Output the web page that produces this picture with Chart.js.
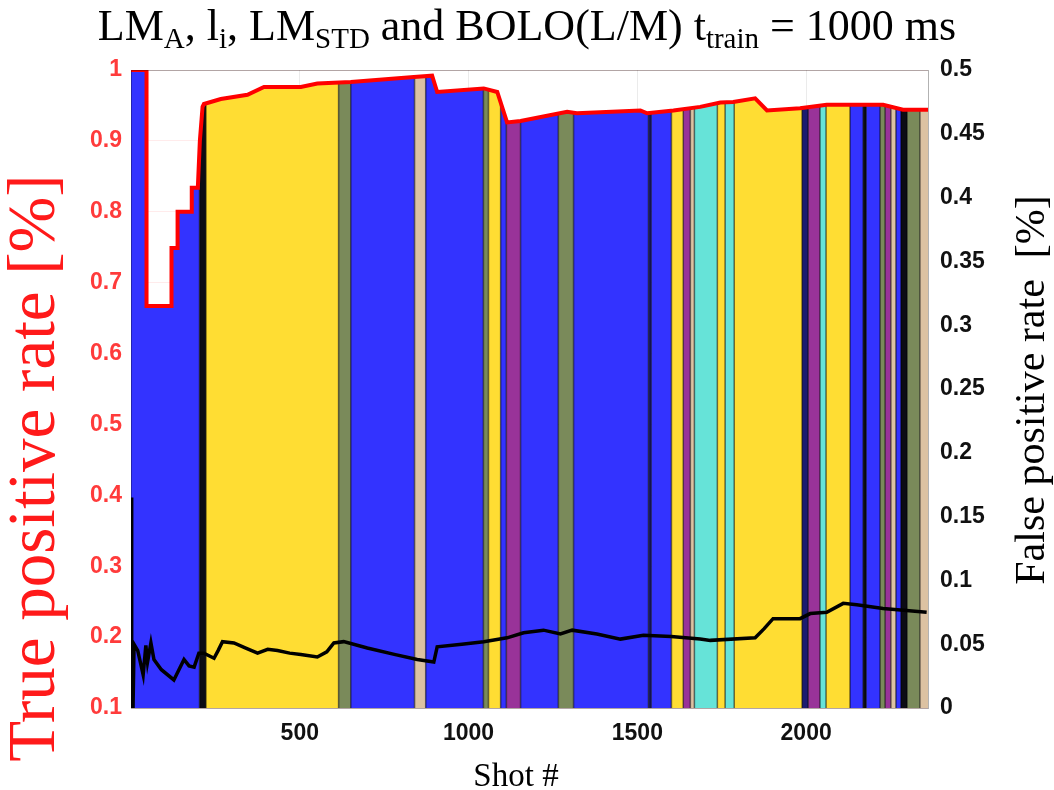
<!DOCTYPE html>
<html>
<head>
<meta charset="utf-8">
<script src="https://cdn.jsdelivr.net/npm/chart.js@4.4.1/dist/chart.umd.min.js"></script>
<style>
  body { margin: 0; background: #fff; }
  canvas { display: block; }
</style>
</head>
<body>
<canvas id="rateChart" width="1054" height="790"></canvas>
<script>
// title pieces: [text, isSubscript]
const titleParts = [
  ["LM", 0], ["A", 1], [", l", 0], ["i", 1], [", LM", 0], ["STD", 1],
  [" and BOLO(L/M) t", 0], ["train", 1], [" = 1000 ms", 0],
];

const shotMax = 2361;
const xTicks = [500, 1000, 1500, 2000];

// true positive rate (left axis)
const tprShot = [0, 46, 46, 120, 120, 138, 138, 180, 180, 198, 204, 212, 216, 266, 345, 394, 503, 552, 651, 838,
  892, 907, 1045, 1085, 1114, 1154, 1292, 1321, 1509, 1529, 1607, 1686, 1746, 1784, 1849, 1884, 1982, 2061,
  2228, 2287, 2361];
const tprRate = [1, 1, 0.667, 0.667, 0.749, 0.749, 0.8, 0.8, 0.834, 0.834, 0.9, 0.948, 0.952, 0.959, 0.965, 0.976,
  0.976, 0.981, 0.983, 0.99, 0.992, 0.969, 0.974, 0.969, 0.926, 0.928, 0.941, 0.939, 0.943, 0.939, 0.943,
  0.948, 0.954, 0.955, 0.96, 0.943, 0.946, 0.951, 0.951, 0.944, 0.944];

// false positive rate (right axis)
const fprShot = [0, 2, 6, 9, 20, 36, 44, 49, 59, 68, 90, 127, 142, 157, 172, 187, 201, 216, 246, 258, 271, 305,
  340, 375, 405, 434, 470, 503, 552, 580, 601, 630, 700, 780, 848, 897, 907, 980, 1045, 1114, 1163, 1222,
  1272, 1307, 1380, 1450, 1518, 1600, 1686, 1716, 1849, 1875, 1902, 1982, 2012, 2061, 2110, 2150, 2228, 2357];
const fprRate = [0.165, 0, 0, 0.05, 0.045, 0.026, 0.049, 0.036, 0.051, 0.038, 0.03, 0.022, 0.03, 0.038, 0.033,
  0.032, 0.043, 0.043, 0.039, 0.045, 0.052, 0.051, 0.047, 0.043, 0.046, 0.045, 0.043, 0.042, 0.04, 0.044,
  0.051, 0.052, 0.047, 0.042, 0.038, 0.036, 0.048, 0.05, 0.052, 0.055, 0.059, 0.061, 0.058, 0.061, 0.058,
  0.054, 0.057, 0.056, 0.054, 0.053, 0.055, 0.062, 0.07, 0.07, 0.074, 0.075, 0.082, 0.081, 0.078, 0.075];

// background bands: first shot of each band and its class
const bandStart = [0, 203, 222, 615, 651, 840, 873, 1044, 1059, 1095, 1112, 1154, 1266, 1311, 1533, 1541, 1601,
  1636, 1657, 1669, 1737, 1760, 1787, 1988, 2006, 2041, 2059, 2130, 2169, 2178, 2219, 2234, 2251, 2266, 2281,
  2299, 2337];
const bandType = ["blue", "black", "yellow", "olive", "blue", "tan", "blue", "olive", "yellow", "blue", "purple",
  "blue", "olive", "blue", "navy", "blue", "yellow", "purple", "tan", "cyan", "yellow", "cyan", "yellow", "navy",
  "purple", "cyan", "yellow", "blue", "black", "blue", "olive", "purple", "tan", "blue", "black", "olive", "tan"];

const palette = {
  blue: "#3333ff", black: "#0c0c14", yellow: "#ffdd33", olive: "#7a8a5a", tan: "#dcc2a2",
  purple: "#993399", cyan: "#66e3d8", navy: "#1c1c70",
};

const bandsPlugin = {
  id: "bands",
  beforeDatasetsDraw(chart) {
    const { ctx, chartArea: a, scales: { x } } = chart;
    const pts = chart.getDatasetMeta(0).data;
    ctx.save();
    ctx.beginPath();
    ctx.moveTo(pts[0].x, a.bottom);
    pts.forEach((p) => ctx.lineTo(p.x, p.y));
    ctx.lineTo(pts[pts.length - 1].x, a.bottom);
    ctx.closePath();
    ctx.clip();
    bandStart.forEach((s, i) => {
      const e = i + 1 < bandStart.length ? bandStart[i + 1] : shotMax;
      const x0 = x.getPixelForValue(s);
      const x1 = x.getPixelForValue(e);
      ctx.fillStyle = palette[bandType[i]];
      ctx.fillRect(x0, a.top, x1 - x0, a.bottom - a.top);
    });
    ctx.strokeStyle = "rgba(0,0,0,0.55)";
    ctx.lineWidth = 1.5;
    bandStart.slice(1).forEach((s) => {
      const px = x.getPixelForValue(s);
      ctx.beginPath();
      ctx.moveTo(px, a.top);
      ctx.lineTo(px, a.bottom);
      ctx.stroke();
    });
    ctx.restore();
  },
  afterDraw(chart) {
    const { ctx, chartArea: a } = chart;
    ctx.save();
    // box
    ctx.strokeStyle = "rgba(0,0,0,0.3)";
    ctx.lineWidth = 1;
    ctx.strokeRect(a.left + 0.5, a.top + 0.5, a.right - a.left, a.bottom - a.top);

    // title with subscripts
    const big = "44px 'Liberation Serif'";
    const small = "29px 'Liberation Serif'";
    let w = 0;
    titleParts.forEach(([t, sub]) => { ctx.font = sub ? small : big; w += ctx.measureText(t).width; });
    let tx = chart.width / 2 - w / 2;
    ctx.fillStyle = "#000";
    ctx.textBaseline = "alphabetic";
    titleParts.forEach(([t, sub]) => {
      ctx.font = sub ? small : big;
      ctx.fillText(t, tx, sub ? 48 : 40);
      tx += ctx.measureText(t).width;
    });

    // axis titles
    ctx.textAlign = "center";
    ctx.font = "67px 'Liberation Serif'";
    ctx.fillStyle = "#ff1a1a";
    ctx.save();
    ctx.translate(54, 468);
    ctx.rotate(-Math.PI / 2);
    ctx.fillText("True positive rate [%]", 0, 0);
    ctx.restore();

    ctx.font = "42px 'Liberation Serif'";
    ctx.fillStyle = "#000";
    ctx.save();
    ctx.translate(1044, 390);
    ctx.rotate(-Math.PI / 2);
    ctx.fillText("False positive rate  [%]", 0, 0);
    ctx.restore();

    ctx.font = "33px 'Liberation Serif'";
    ctx.fillText("Shot #", 516, 786);
    ctx.restore();
  },
};

const fmt = (d) => (v) => String(Number(v.toFixed(d)));

new Chart(document.getElementById("rateChart"), {
  type: "line",
  data: {
    datasets: [
      {
        label: "True positive rate",
        data: tprShot.map((s, i) => ({ x: s, y: tprRate[i] })),
        yAxisID: "y",
        borderColor: "#ff0000",
        borderWidth: 4,
        pointRadius: 0,
        fill: false,
      },
      {
        label: "False positive rate",
        data: fprShot.map((s, i) => ({ x: s, y: fprRate[i] })),
        yAxisID: "y1",
        borderColor: "#000",
        borderWidth: 3.5,
        pointRadius: 0,
        fill: false,
      },
    ],
  },
  options: {
    responsive: false,
    animation: false,
    layout: { padding: { top: 70 } },
    plugins: { legend: { display: false }, tooltip: { enabled: false } },
    scales: {
      x: {
        type: "linear",
        min: 0,
        max: shotMax,
        afterBuildTicks: (s) => { s.ticks = xTicks.map((v) => ({ value: v })); },
        afterFit: (s) => { s.height = 82; },
        grid: { color: "rgba(0,0,0,0.08)", drawTicks: false },
        border: { display: false },
        ticks: { color: "#111", padding: 12, maxRotation: 0, callback: fmt(0), font: { family: "Liberation Sans", size: 23, weight: "bold" } },
      },
      y: {
        position: "left",
        min: 0.1,
        max: 1,
        afterFit: (s) => { s.width = 131; },
        grid: { color: "rgba(255,0,0,0.08)", drawTicks: false },
        border: { display: false },
        ticks: { stepSize: 0.1, color: "#ff3b3b", padding: 9, callback: fmt(1), font: { family: "Liberation Sans", size: 23, weight: "bold" } },
      },
      y1: {
        position: "right",
        min: 0,
        max: 0.5,
        afterFit: (s) => { s.width = 126; },
        grid: { drawOnChartArea: false, drawTicks: false },
        border: { display: false },
        ticks: { stepSize: 0.05, color: "#111", padding: 12, callback: fmt(2), font: { family: "Liberation Sans", size: 23, weight: "bold" } },
      },
    },
  },
  plugins: [bandsPlugin],
});
</script>
</body>
</html>
